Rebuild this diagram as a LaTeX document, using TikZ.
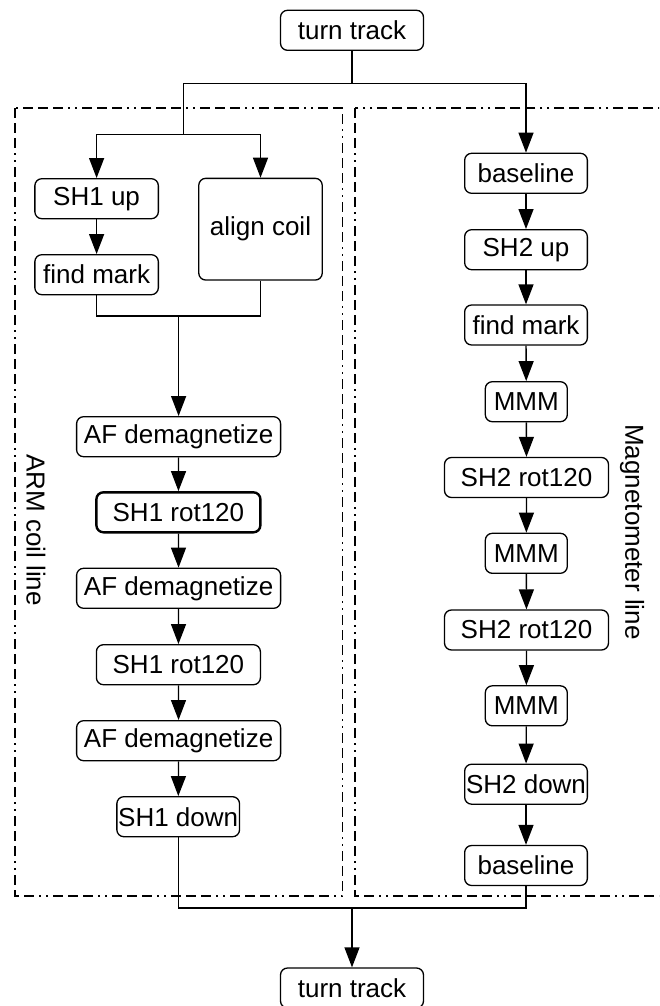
\documentclass[tikz,border=0pt]{standalone}
\usepackage{fontspec}
\setmainfont{Liberation Sans}
\usepackage{tikz}
\usetikzlibrary{positioning,calc,arrows.meta}

\begin{document}
\begin{tikzpicture}[x=1pt, y=-1pt,
    box/.style={draw, line width=1.3pt, rounded corners=7pt, minimum height=40pt,
        inner sep=1pt, font=\fontsize{26}{30}\selectfont},
    arr/.style={line width=1.3pt, -{Triangle[length=20pt,width=15pt]}},
    link/.style={line width=1.3pt},
    frame/.style={line width=1.6pt, dash pattern=on 10pt off 5pt on 10pt off 5pt on 10pt off 5pt on 2pt off 5pt on 2pt off 5pt},
    lbl/.style={rotate=-90, font=\fontsize{26}{30}\selectfont}]
    \useasboundingbox (0,0) rectangle (659,1006);
    \clip (0,0) rectangle (659,1006);

    % the two lines
    \draw[frame] (14.7,108.3) rectangle (342.5,896);
    \draw[frame] (355,108.3) rectangle (690,896);
    \node[lbl] (armlbl) at (36,530) {ARM coil line};
    \node[lbl] (maglbl) at (632,532) {Magnetometer line};

    % start and end
    \node[box, minimum width=143pt] (tt1) at (352,30.3) {turn track};
    \node[box, minimum width=143pt] (tt2) at (352,988) {turn track};

    % ARM coil line
    \node[box, minimum width=123.5pt] (sh1up) at (96.6,198.7) {SH1 up};
    \node[box, minimum width=123.5pt] (find1) at (96.6,274.7) {find mark};
    \node[box, minimum width=123.5pt, minimum height=101.7pt] (align) at (260.5,229.2) {align coil};
    \node[box, minimum width=204pt] (af1) at (178.6,436.7) {AF demagnetize};
    \node[box, minimum width=164pt, line width=2.4pt] (rot1) at (178.4,512.3) {SH1 rot120};
    \node[box, minimum width=204pt] (af2) at (178.6,588.3) {AF demagnetize};
    \node[box, minimum width=164pt] (rot2) at (178.4,664.7) {SH1 rot120};
    \node[box, minimum width=204pt] (af3) at (178.6,740.7) {AF demagnetize};
    \node[box, minimum width=122.7pt] (sh1down) at (178.2,816.7) {SH1 down};

    % Magnetometer line
    \node[box, minimum width=122.7pt] (base1) at (526,173.3) {baseline};
    \node[box, minimum width=122.7pt] (sh2up) at (526,249.7) {SH2 up};
    \node[box, minimum width=122.7pt] (find2) at (526,325) {find mark};
    \node[box, minimum width=82pt] (mmm1) at (526.3,401.7) {MMM};
    \node[box, minimum width=164pt] (rot3) at (526.5,477.5) {SH2 rot120};
    \node[box, minimum width=82pt] (mmm2) at (526.3,553.3) {MMM};
    \node[box, minimum width=164pt] (rot4) at (526.5,630) {SH2 rot120};
    \node[box, minimum width=82pt] (mmm3) at (526.3,705.8) {MMM};
    \node[box, minimum width=122.7pt] (sh2down) at (526,784.2) {SH2 down};
    \node[box, minimum width=122.7pt] (base2) at (526,865.5) {baseline};

    % branch points
    \coordinate (split) at (352,83.3);
    \coordinate (lsplit) at (183.6,134.3);
    \coordinate (lmerge) at (178.6,316);
    \coordinate (bmerge) at (352,908);

    \draw[link] (tt1) -- (split);
    \draw[link] (split) -| (lsplit);
    \draw[arr] (split) -| (base1);
    \draw[arr] (lsplit) -| (sh1up);
    \draw[arr] (lsplit) -| (align);
    \draw[arr] (sh1up) -- (find1);
    \draw[link] (find1) |- (lmerge) -| (align);
    \draw[arr] (lmerge) -- (af1);

    \foreach \a/\b in {af1/rot1, rot1/af2, af2/rot2, rot2/af3, af3/sh1down,
        base1/sh2up, sh2up/find2, find2/mmm1, mmm1/rot3, rot3/mmm2,
        mmm2/rot4, rot4/mmm3, mmm3/sh2down, sh2down/base2}
        \draw[arr] (\a) -- (\b);

    \draw[link] (sh1down) |- (bmerge) -| (base2);
    \draw[arr] (bmerge) -- (tt2);
\end{tikzpicture}
\end{document}
